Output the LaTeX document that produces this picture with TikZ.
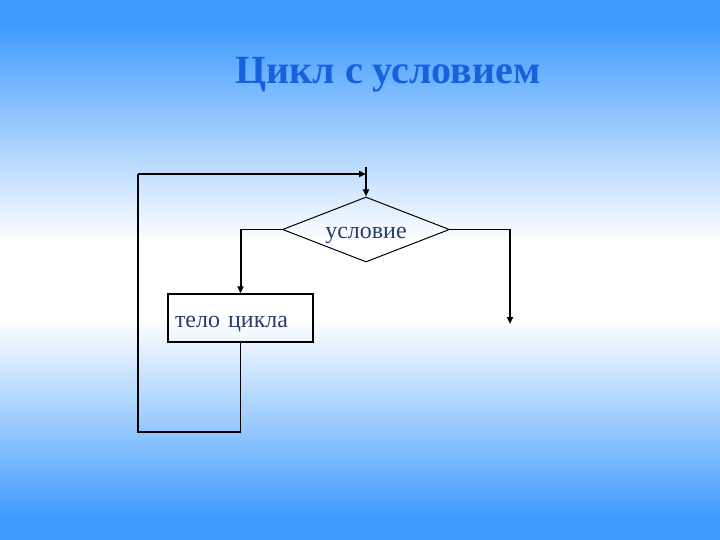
\documentclass[tikz,border=0pt]{standalone}
\usepackage{fontspec}
\setmainfont{Liberation Serif}
\usepackage{tikz}
\usepackage{xcolor}
\usetikzlibrary{shapes.geometric, positioning, arrows.meta}
\definecolor{bgblue}{RGB}{64,155,255}
\definecolor{titleblue}{RGB}{22,98,222}
\definecolor{labelblue}{RGB}{40,60,110}
\tikzset{every picture/.style={line width=1pt}}
\tikzset{condbox/.style={diamond, draw, aspect=2.57, minimum width=167pt, minimum height=65pt,
    inner sep=0pt, text=labelblue, font=\fontsize{24}{28}\selectfont, text height=18pt, text depth=0pt}}
\tikzset{bodybox/.style={rectangle, draw, line width=1.3pt, minimum width=145pt, minimum height=48pt,
    inner xsep=7pt, text width=131pt, align=left, text=labelblue, font=\fontsize{24}{28}\selectfont,
    text height=18pt, text depth=0pt}}
\tikzset{flow/.style={line width=2pt}, link/.style={line width=1.2pt}}

\begin{document}
\begin{tikzpicture}[x=1pt,y=-1pt,>={Triangle[length=7pt,width=6pt]}]
  \useasboundingbox (0,0) rectangle (720,540);
  \fill [bgblue] (0,0) rectangle (720,26);
  \fill [top color=bgblue, bottom color=white] (0,25) rectangle (720,241);
  \fill [white] (0,240) rectangle (720,321);
  \fill [top color=white, bottom color=bgblue] (0,320) rectangle (720,516);
  \fill [bgblue] (0,515) rectangle (720,540);

  \node [anchor=base, text=titleblue, font=\fontsize{40}{48}\selectfont\bfseries]
    (title) at (388,84) {Цикл с условием};

  \node [condbox] (cond) at (366,229.5) {условие};
  \node [bodybox] (body) at (240.5,318) {тело цикла};

  \coordinate (in) at (366,167);
  \coordinate (looptop) at (138,174);
  \coordinate (loopbot) at (138,432);
  \coordinate (entry) at (366,174);
  \coordinate (exit) at (510,324);

  \draw [flow, ->] (in) -- (cond.north);
  \draw [link] (cond.west) -- (cond.west -| body.north);
  \draw [flow, ->] (cond.west -| body.north) -- (body.north);
  \draw [link] (cond.east) -- (cond.east -| exit) coordinate (turn);
  \draw [flow, ->] (turn) -- (exit);
  \draw [link] (body.south) |- (loopbot) -- (looptop);
  \draw [flow, ->] (looptop) -- (entry);
\end{tikzpicture}
\end{document}
